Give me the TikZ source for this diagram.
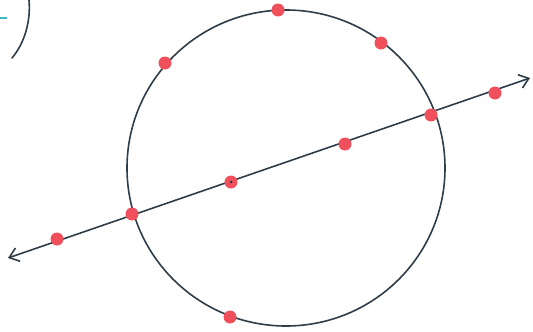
\documentclass[tikz,border=0pt]{standalone}
\usetikzlibrary{arrows.meta}
\definecolor{ink}{HTML}{2E3D48}
\definecolor{dotred}{HTML}{F0505C}
\definecolor{teal}{HTML}{3FB8C0}
\begin{document}
\begin{tikzpicture}[x=1pt,y=-1pt,
  pen/.style={draw=ink,line width=1.6pt,line cap=round},
  pt/.style={circle,fill=dotred,inner sep=0pt,minimum size=13pt}]
\useasboundingbox (0,0) rectangle (533,332);
\draw[pen] (286,168) ellipse [x radius=159, y radius=158];
\coordinate (L) at (8,258);
\coordinate (R) at (530,78);
\draw[pen,{Straight Barb[length=9pt,width=14pt]}-{Straight Barb[length=9pt,width=14pt]}] (L) -- (R);
\draw[pen] (29,0) .. controls (31,22) and (24,44) .. (12,58);
\draw[teal,line width=1.4pt] (0,18) -- (7,18);
\node[pt] (p1) at (57,239) {};
\node[pt] (p2) at (132,214) {};
\node[pt] (p3) at (231,182) {};
\node[pt] (p4) at (345,144) {};
\node[pt] (p5) at (431,115) {};
\node[pt] (p6) at (495,93) {};
\node[pt] (q1) at (278,10) {};
\node[pt] (q2) at (381,43) {};
\node[pt] (q3) at (165,63) {};
\node[pt] (q4) at (230,317) {};
\fill[ink] (p3) circle (1.5pt);
\end{tikzpicture}
\end{document}
